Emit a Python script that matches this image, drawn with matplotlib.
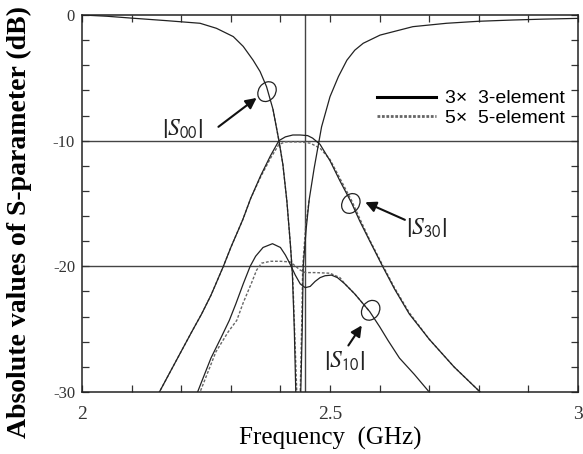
import numpy as np
import matplotlib
matplotlib.use("Agg")
import matplotlib.pyplot as plt
from matplotlib.patches import Ellipse
from matplotlib.lines import Line2D
from matplotlib.transforms import ScaledTranslation

plt.rcParams['font.family'] = ['Liberation Serif', 'DejaVu Serif']
plt.rcParams['axes.unicode_minus'] = False
plt.rcParams['mathtext.fontset'] = 'stix'

# |S00| reflection, 3x3 (solid) and 5x5 (dashed)
s00_f = [2.00, 2.05, 2.10, 2.17, 2.238, 2.271, 2.305, 2.325, 2.345, 2.359, 2.372,
         2.385, 2.397, 2.405, 2.413, 2.42, 2.424, 2.428, 2.431, 2.436, 2.441,
         2.444, 2.446, 2.452, 2.458, 2.468, 2.478, 2.483, 2.50, 2.517, 2.534, 2.55,
         2.567, 2.601, 2.667, 2.735, 2.80, 2.869, 2.93, 3.00]
s00_db = [0.0, -0.1, -0.25, -0.45, -0.66, -1.06, -1.72, -2.5, -3.6, -4.5, -5.7,
          -7.5, -10.0, -11.9, -14.8, -18.2, -20.5, -25.0, -30.0, -45.0, -30.0,
          -25.0, -20.0, -17.0, -14.7, -12.2, -10.0, -8.9, -6.5, -4.9, -3.6, -2.8,
          -2.25, -1.6, -0.93, -0.66, -0.5, -0.4, -0.33, -0.27]
s00d_f = [2.385, 2.397, 2.405, 2.413, 2.42, 2.425, 2.429, 2.433, 2.437, 2.440,
          2.443, 2.445, 2.451, 2.458]
s00d_db = [-7.5, -10.0, -11.9, -14.8, -18.2, -21.0, -25.5, -30.0, -45.0, -30.0,
           -24.5, -20.0, -16.8, -14.7]

# |S30| transmission
s30_f = [2.10, 2.156, 2.19, 2.22, 2.241, 2.26, 2.285, 2.30, 2.324, 2.34, 2.36, 2.38,
         2.397, 2.41, 2.425, 2.44, 2.455, 2.465, 2.48, 2.50, 2.52, 2.544, 2.56, 2.579,
         2.606, 2.63, 2.66, 2.70, 2.75, 2.80, 2.83]
s30_db = [-34.0, -30.0, -27.5, -25.3, -23.8, -22.3, -20.0, -18.5, -16.3, -14.6, -12.8,
          -11.2, -10.0, -9.7, -9.55, -9.55, -9.6, -9.8, -10.3, -11.6, -13.2, -15.0,
          -16.4, -17.9, -20.0, -21.8, -23.8, -25.8, -28.0, -29.9, -31.2]
s30d_f = [2.10, 2.156, 2.19, 2.22, 2.241, 2.26, 2.285, 2.30, 2.324, 2.34, 2.36, 2.38,
          2.397, 2.41, 2.44, 2.46, 2.48, 2.50, 2.52, 2.544, 2.56, 2.58, 2.606, 2.63,
          2.66, 2.70, 2.75, 2.80, 2.83]
s30d_db = [-34.0, -30.0, -27.5, -25.3, -23.8, -22.3, -20.0, -18.5, -16.3, -14.6,
           -12.9, -11.4, -10.3, -10.1, -10.1, -10.2, -10.6, -11.5, -13.0, -14.8,
           -16.2, -17.9, -19.9, -21.7, -23.7, -25.8, -28.0, -29.9, -31.2]

# |S10| coupling
s10_f = [2.20, 2.233, 2.26, 2.28, 2.297, 2.31, 2.325, 2.339, 2.35, 2.365, 2.384,
         2.40, 2.41, 2.418, 2.424, 2.43, 2.44, 2.45, 2.46, 2.47, 2.48, 2.49, 2.503,
         2.515, 2.53, 2.55, 2.58, 2.60, 2.617, 2.64, 2.67, 2.70, 2.73]
s10_db = [-34.0, -30.0, -27.3, -25.7, -24.3, -23.0, -21.4, -20.0, -19.2, -18.5,
          -18.2, -18.5, -19.1, -19.7, -20.2, -20.7, -21.4, -21.7, -21.6, -21.2,
          -20.9, -20.75, -20.7, -20.9, -21.4, -22.2, -23.6, -24.8, -25.9, -27.3,
          -28.6, -30.0, -31.5]
s10d_f = [2.20, 2.238, 2.27, 2.295, 2.312, 2.325, 2.342, 2.352, 2.362, 2.38, 2.40,
          2.42, 2.44, 2.45, 2.47, 2.50, 2.52, 2.53, 2.55, 2.58]
s10d_db = [-34.0, -30.0, -26.8, -25.2, -24.3, -22.9, -21.3, -20.3, -19.75, -19.6,
           -19.6, -19.65, -20.3, -20.5, -20.5, -20.55, -20.9, -21.4, -22.2, -23.6]

f0 = 2.45
hlines = [-10, -20]

fig = plt.figure(figsize=(5.83, 4.54), dpi=100)
ax = fig.add_axes([0.1407, 0.1366, 0.8507, 0.8304])

for y in hlines:
    ax.axhline(y, color='#444444', lw=1.0, zorder=1)
ax.axvline(f0, color='#444444', lw=1.0, zorder=1)

solid = dict(color='#222222', lw=0.9, zorder=3)
dashed = dict(color='#666666', lw=1.0, ls=(0, (2, 1.3)), zorder=2)
ax.plot(s00_f, s00_db, **solid)
ax.plot(s30_f, s30_db, **solid)
ax.plot(s10_f, s10_db, **solid)
ax.plot(s00d_f, s00d_db, **dashed)
ax.plot(s30d_f, s30d_db, **dashed)
ax.plot(s10d_f, s10d_db, **dashed)

ax.set_xlim(2, 3)
ax.set_ylim(-30, 0)
ax.set_xticks([2, 2.5, 3])
ax.set_xticklabels(['2', '2.5', '3'])
ax.set_xticks(np.arange(2.1, 3.0, 0.1), minor=True)
ax.set_yticks([-30, -20, -10, 0])
ax.set_yticks(np.arange(-28, 0, 2), minor=True)
ax.tick_params(which='both', direction='in', top=True, right=True,
               length=5, width=0.9, colors='#333333')
ax.tick_params(axis='x', pad=10, labelsize=14)
ax.tick_params(axis='y', pad=5, labelsize=12)
for sp in ax.spines.values():
    sp.set_linewidth(1.1)
    sp.set_color('#222222')

fig.text(0.034, 0.511, 'Absolute values of S-parameter (dB)', rotation=90,
         ha='center', va='center', fontsize=20, fontweight='bold')
fig.text(0.566, 0.035, 'Frequency  (GHz)', ha='center', va='center', fontsize=18)

# circles marking each curve (size in inches, centred on data point)
marks = [(2.373, -6.1, -35), (2.542, -15.0, -35), (2.582, -23.5, -35)]
for fx, db, ang in marks:
    tr = fig.dpi_scale_trans + ScaledTranslation(fx, db, ax.transData)
    ax.add_patch(Ellipse((0, 0), 0.17, 0.21, angle=ang, fill=False,
                         ec='#222222', lw=0.9, transform=tr, zorder=4))

arrows = [((2.352, -6.6), (2.275, -8.9)),
          ((2.571, -14.9), (2.651, -16.3)),
          ((2.564, -24.7), (2.537, -26.3))]
for head, tail in arrows:
    ax.annotate('', xy=head, xytext=tail,
                arrowprops=dict(arrowstyle='-|>', color='#111111', lw=1.5,
                                mutation_scale=16, shrinkA=0, shrinkB=0))

labels = [(2.203, -9.1, r'$\left|S_{\mathsf{00}}\right|$'),
          (2.695, -17.0, r'$\left|S_{\mathsf{30}}\right|$'),
          (2.530, -27.6, r'$\left|S_{\mathsf{10}}\right|$')]
for fx, db, txt in labels:
    ax.text(fx, db, txt, ha='center', va='center', fontsize=17, color='#222222')

handles = [Line2D([], [], color='black', lw=2.2),
           Line2D([], [], color='#666666', lw=2.0, ls=(0, (1, 0.6)))]
ax.legend(handles, ['3×  3-element', '5×  5-element'], loc='center left',
          bbox_to_anchor=(0.56, 0.752), frameon=False,
          handlelength=3.0, handletextpad=0.5, labelspacing=0.12,
          prop={'family': 'Liberation Sans', 'size': 14})

fig.savefig('out.png', dpi=100)
